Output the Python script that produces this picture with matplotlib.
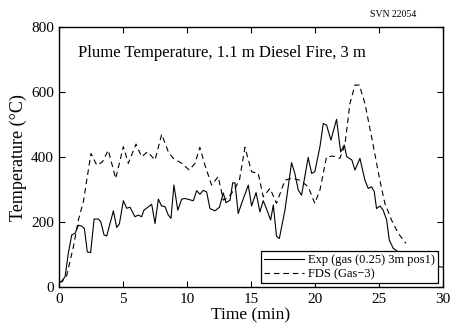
import matplotlib
matplotlib.use("Agg")
import matplotlib.pyplot as plt

# Exp (gas (0.25) 3m pos1), time in min, temperature in C
exp_t = [0.0, 0.19, 0.45, 0.7, 0.97, 1.23, 1.49, 1.75, 1.96, 2.19, 2.45, 2.72, 3.05, 3.24,
         3.5, 3.71, 4.23, 4.49, 4.7, 5.01, 5.27, 5.53, 5.92, 6.18, 6.44, 6.62, 7.23, 7.49,
         7.75, 8.0, 8.27, 8.53, 8.74, 8.97, 9.27, 9.58, 9.84, 10.49, 10.75, 11.0, 11.27,
         11.53, 11.79, 12.18, 12.53, 12.83, 13.05, 13.36, 13.57, 13.75, 14.0, 14.27, 14.79,
         15.05, 15.4, 15.7, 15.96, 16.23, 16.54, 16.75, 17.0, 17.22, 17.66, 18.18, 18.44,
         18.7, 18.96, 19.48, 19.75, 20.0, 20.4, 20.66, 20.92, 21.26, 21.7, 22.02, 22.3,
         22.5, 22.9, 23.14, 23.53, 23.92, 24.18, 24.44, 24.65, 24.83, 25.1, 25.35, 25.62,
         25.83, 26.14, 26.5, 27.0, 28.0, 29.0, 30.0]
exp_T = [17, 19, 33, 104, 161, 166, 191, 188, 181, 109, 107, 210, 210, 202,
         161, 158, 235, 184, 195, 266, 243, 246, 217, 222, 217, 237, 255, 196,
         271, 250, 248, 222, 212, 314, 237, 271, 273, 266, 297, 286, 298,
         293, 242, 235, 246, 290, 260, 268, 321, 321, 227, 258, 314,
         250, 291, 232, 266, 240, 207, 253, 157, 150, 237, 383, 349,
         299, 283, 399, 350, 355, 432, 503, 498, 452, 516, 416, 437,
         401, 391, 360, 396, 329, 304, 309, 294, 242, 250, 237, 207,
         145, 120, 110, 95, 80, 68, 62]

# FDS (Gas-3)
fds_t = [0.0, 0.19, 0.58, 1.1, 1.49, 1.88, 2.27, 2.48, 2.93, 3.37, 3.83, 4.41, 5.01, 5.4,
         6.0, 6.44, 6.9, 7.49, 8.01, 8.53, 8.92, 9.58, 10.17, 10.62, 11.0, 11.4, 11.92,
         12.44, 12.83, 13.2, 13.7, 14.1, 14.53, 15.05, 15.57, 15.96, 16.49, 17.0, 17.66,
         18.18, 18.83, 19.48, 20.0, 20.4, 20.92, 21.44, 21.96, 22.35, 22.75, 23.14, 23.48,
         23.92, 24.44, 25.09, 25.48, 26.0, 26.53, 27.13]
fds_T = [17, 17, 37, 125, 207, 263, 360, 411, 375, 385, 421, 334, 432, 381,
         440, 401, 416, 391, 470, 416, 396, 381, 360, 381, 430, 375, 314,
         340, 268, 275, 300, 330, 430, 355, 350, 278, 304, 258, 329,
         335, 329, 309, 258, 299, 401, 403, 396, 437, 565, 621, 621,
         565, 462, 329, 258, 207, 166, 135]

plt.rcParams['font.family'] = ['Liberation Serif', 'DejaVu Serif']

fig = plt.figure(figsize=(4.53, 3.30), dpi=100)
ax = fig.add_axes([0.131, 0.129, 0.846, 0.790])

ax.plot(exp_t, exp_T, color='black', linewidth=0.8, label='Exp (gas (0.25) 3m pos1)')
ax.plot(fds_t, fds_T, color='black', linewidth=0.8, linestyle=(0, (5, 3.5)), label='FDS (Gas\u22123)')

ax.set_xlim(0, 30)
ax.set_ylim(0, 800)
ax.set_xticks([0, 5, 10, 15, 20, 25, 30])
ax.set_yticks([0, 200, 400, 600, 800])
ax.tick_params(direction='in', top=True, right=True, labelsize=11, length=4, width=0.8)
ax.tick_params(axis='x', pad=4)
ax.tick_params(axis='y', pad=4)
for s in ax.spines.values():
    s.set_linewidth(1.0)

ax.set_xlabel('Time (min)', fontsize=12.5, labelpad=1)
ax.set_ylabel('Temperature (\u00b0C)', fontsize=13, labelpad=3)

ax.text(0.049, 0.899, 'Plume Temperature, 1.1 m Diesel Fire, 3 m', transform=ax.transAxes,
        fontsize=12, va='center', ha='left')
fig.text(0.918, 0.955, 'SVN 22054', fontsize=7, ha='right', va='center')

leg = ax.legend(loc='lower right', bbox_to_anchor=(0.988, 0.0165), fontsize=9,
                frameon=True, fancybox=False, framealpha=1, edgecolor='black',
                borderpad=0.25, labelspacing=0.15, handlelength=3.2, handletextpad=0.3,
                borderaxespad=0)
leg.get_frame().set_linewidth(0.9)

fig.savefig('out.png', dpi=100)
